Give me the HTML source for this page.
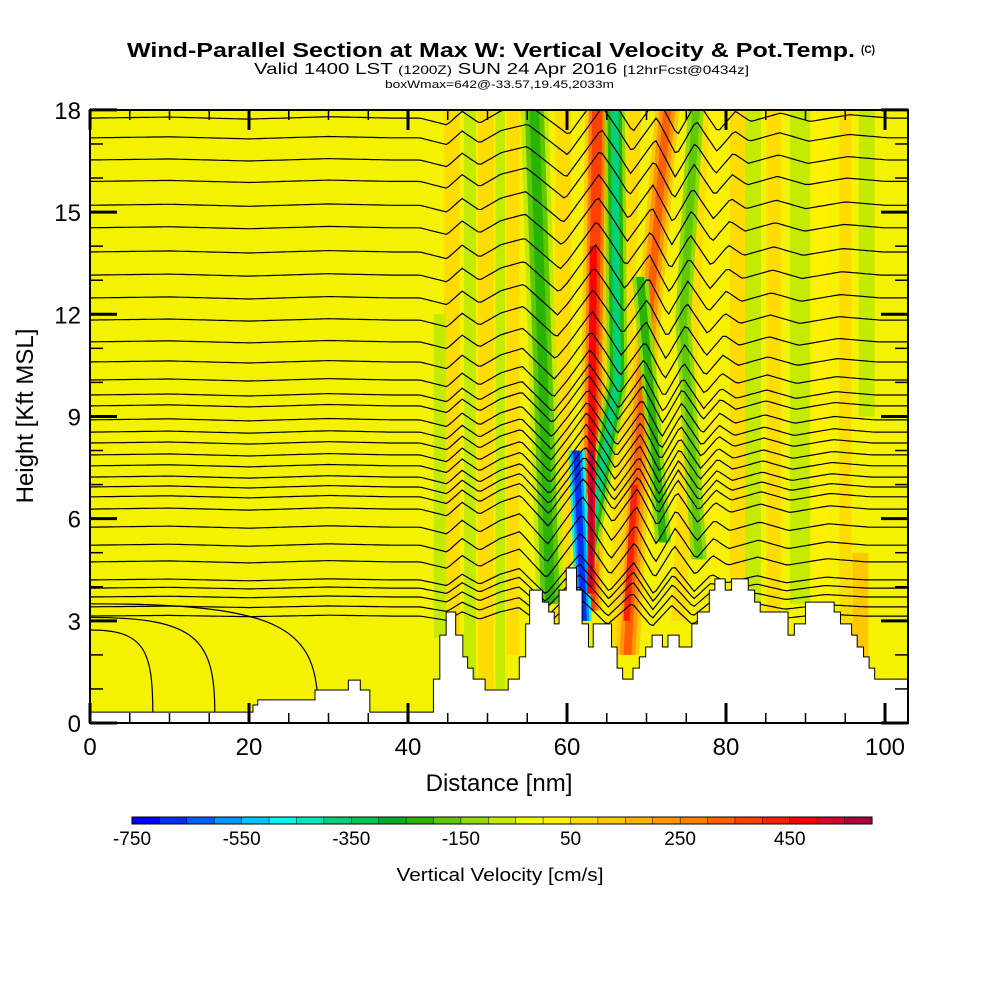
<!DOCTYPE html>
<html><head><meta charset="utf-8"><style>
html,body{margin:0;padding:0;background:#fff;}
svg{display:block;font-family:"Liberation Sans",sans-serif;}
</style></head><body>
<svg id="chart" width="1000" height="1000" viewBox="0 0 1000 1000" xmlns="http://www.w3.org/2000/svg">
<defs><clipPath id="plotclip"><rect x="90" y="110" width="818" height="613"/></clipPath></defs>
<g>
<text x="127" y="57" font-size="20" font-weight="bold" textLength="728" lengthAdjust="spacingAndGlyphs">Wind-Parallel Section at Max W: Vertical Velocity &amp; Pot.Temp.</text>
<text x="861" y="53" font-size="11" font-weight="bold" textLength="14" lengthAdjust="spacingAndGlyphs">(C)</text>
<text x="254" y="74" font-size="16" textLength="495" lengthAdjust="spacingAndGlyphs">Valid 1400 LST <tspan font-size="12">(1200Z)</tspan> SUN 24 Apr 2016 <tspan font-size="12">[12hrFcst@0434z]</tspan></text>
<text x="385" y="88" font-size="11" textLength="229" lengthAdjust="spacingAndGlyphs">boxWmax=642@-33.57,19.45,2033m</text>
</g>
<g id="plot" clip-path="url(#plotclip)">
<rect x="90" y="110" width="818" height="613" fill="#f4f200"/>
<g id="stripes"></g>
<g id="contours"></g>
<g id="terrain"></g>
</g>
<rect x="90" y="110" width="818" height="613" fill="none" stroke="#000" stroke-width="2"/>
<g id="ticks"></g>
<g id="labels" font-size="24"></g>
<text x="499" y="791" font-size="24" text-anchor="middle">Distance [nm]</text>
<text transform="translate(33,416) rotate(-90)" font-size="24" text-anchor="middle">Height [Kft MSL]</text>
<g id="colorbar"></g>
<text x="500" y="881" font-size="18" text-anchor="middle" textLength="207" lengthAdjust="spacingAndGlyphs">Vertical Velocity [cm/s]</text>
</svg>
<script>
// ---- data ----
const binColors = ['#0000ff','#0030ff','#0060ff','#0098ff','#00c8ff','#00f8f0','#00e8b8','#00d27a','#00c850','#00b020','#28b400','#60c800','#90dc00','#c4ea00','#eef800','#fff000','#ffdc00','#ffc800','#ffb000','#ff9800','#ff8000','#ff6000','#ff4000','#ff2000','#ff0000','#d80030','#b00040'];
const cbarLabels = [-750,-550,-350,-150,50,250,450];
const xTicks = [0,20,40,60,80,100];
const yTicks = [0,3,6,9,12,15,18];
// terrain steps: start distance (nm), height (kft)
const terrNm  = [0,20.5,21.1,28.3,32.5,34.0,35.2,43.2,44.0,44.8,46.0,46.9,47.5,48.2,49.7,52.6,54.0,54.8,55.3,56.9,57.7,58.4,59.0,59.9,61.2,61.9,62.7,63.3,65.6,66.3,67.0,68.3,69.1,69.9,70.7,72.0,72.7,74.1,75.7,76.4,77.9,78.6,79.9,80.7,82.8,83.6,84.3,87.8,88.6,90.0,93.6,94.4,95.8,96.5,97.3,98.0,98.7];
const terrKft = [0.32,0.53,0.68,0.97,1.26,0.97,0.32,1.29,2.58,3.26,2.58,1.94,1.61,1.29,0.97,1.29,1.94,2.91,3.90,3.55,3.26,2.91,3.90,4.55,3.90,2.91,2.23,2.91,2.23,1.61,1.29,1.61,1.94,2.23,2.58,2.23,2.58,2.23,2.91,3.26,3.90,4.23,3.90,4.23,3.90,3.55,3.26,2.58,2.91,3.55,3.26,2.91,2.58,2.23,1.94,1.61,1.29];
// velocity stripes (drawn in order)
const stripeX0 = [45.5,49.8,53.2,66.0,74.0,78.5,81.5,86.0,92.0,95.0, 47.8,51.6,59.5,83.4,89.3,97.7,96.9,44.0, 57.9,57.9,57.9, 62.9,62.9,62.9, 61.5,61.5,61.5,66.3,66.3,66.3, 62.1,62.1,62.1, 63.0,63.0, 67.6,67.6,67.6,69.3,69.3,69.3,67.5, 72.1,72.1, 76.6,76.6,74.6,74.6];
const stripeY0 = [1.0,1.0,2.0,2.0,3.0,4.0,4.0,3.0,3.5,2.0, 0.5,1.0,3.0,3.5,3.5,9.0,1.3,2.5, 3.5,3.5,3.5, 3.3,3.3,3.3, 3.5,3.5,3.5,10,10,10, 3.0,3.0,3.0, 3.8,4.0, 2.0,2.0,2.0,9.2,9.2,9.2,3.0, 5.3,5.3, 4.8,4.8,11.8,11.8];
const stripeX1 = [45.5,49.8,53.2,68.5,77.0,78.5,81.5,86.0,92.0,95.0, 47.8,51.6,59.5,83.4,89.3,97.7,96.9,44.0, 55.9,55.9,55.9, 63.8,63.8,63.8, 66.3,66.3,66.3,66.0,66.0,66.0, 61.2,61.2,61.2, 63.3,63.1, 69.3,69.3,69.3,72.6,72.6,72.6,68.5, 69.2,69.2, 74.6,74.6,76.2,76.2];
const stripeY1 = [18,18,18,18,18,18,18,18,18,18, 18,18,18,18,18,18,5.0,12, 18,18,18, 18,18,18, 10,10,10,18,18,18, 8.0,8.0,8.0, 14,8, 9.2,9.2,9.2,18,18,18,7.0, 13.1,13.1, 11.8,11.8,18,18];
const stripeW  = [2.0,2.0,1.6,1.8,1.8,1.5,2.0,1.8,2.2,1.5, 1.5,1.2,2.0,2.0,2.5,2.0,2.0,1.5, 3.5,2.4,1.2, 3.0,2.1,1.3, 2.6,1.8,1.0,2.6,1.8,1.0, 2.0,1.4,0.8, 0.9,0.4, 3.0,2.0,1.0,3.0,2.0,1.0,0.8, 2.0,1.0, 2.0,1.0,2.0,1.0];
const stripeC  = [16,16,16,16,16,15,16,16,15,16, 13,13,16,13,13,13,17,13, 13,11,10, 17,20,22, 12,10,7,12,10,7, 5,3,1, 24,26, 17,19,21,17,19,21,23, 12,10, 12,11,12,11];
// theta contours: base heights (kft) at left edge
const contourBase = [17.76,17.18,16.53,15.9,15.2,14.54,13.83,13.15,12.48,11.83,11.19,10.6,10.07,9.63,9.31,8.9,8.54,8.22,7.87,7.55,7.22,6.93,6.64,6.28,5.75,5.22,4.73,4.2,3.96,3.7,3.41,3.14];
// shared perturbation profile
const pertNm  = [0,10,20,30,38,41.5,44.9,46.8,49,51.6,54.1,57.6,62,63.8,65.7,68.8,71.3,73.8,76.4,78.6,80.5,84.3,88,93,98,103];
const pertKft = [0,0.03,-0.03,0.04,0,0,-0.2,0.2,-0.15,0.2,0.4,-0.5,0.9,0.3,-0.4,0.6,-0.5,0.5,-0.4,0.2,-0.1,0.15,-0.1,0.1,0,0];
// low-level closed contours: reach (nm), top height (kft)
const arcReach = [7.9,15.7,28.7];
const arcTop   = [2.73,3.1,3.5];

// ---- axes ----
const X = nm => 90 + nm*7.95;
const Y = k => 723 - k*34.06;
const NS = 'http://www.w3.org/2000/svg';
function mk(tag, attrs, parent){const e=document.createElementNS(NS,tag);for(const k in attrs)e.setAttribute(k,attrs[k]);parent.appendChild(e);return e;}

const sg = document.getElementById('stripes');
for(let i=0;i<stripeX0.length;i++){
  const h=stripeW[i]/2;
  const pts=[[X(stripeX0[i]-h),Y(stripeY0[i])],[X(stripeX0[i]+h),Y(stripeY0[i])],[X(stripeX1[i]+h),Y(stripeY1[i])],[X(stripeX1[i]-h),Y(stripeY1[i])]].map(p=>p.join(',')).join(' ');
  const p=mk('polygon',{points:pts,fill:binColors[stripeC[i]]},sg);
  
  
}
function pert(nm){
  if(nm<=pertNm[0])return pertKft[0];
  for(let i=1;i<pertNm.length;i++){if(nm<=pertNm[i]){const t=(nm-pertNm[i-1])/(pertNm[i]-pertNm[i-1]);return pertKft[i-1]+t*(pertKft[i]-pertKft[i-1]);}}
  return 0;
}
const cg = document.getElementById('contours');
contourBase.forEach(b=>{
  const amp = b>5?1:Math.max(0.3,b/5);
  const shift = (b-6)*0.22;
  let d='';
  for(let nm=0;nm<=103.2;nm+=0.4){
    const w = Math.min(1, Math.max(0, (nm-52)/8));
    const k = b + amp*pert(nm - shift*w);
    d += (d?'L':'M')+X(nm).toFixed(1)+','+Y(k).toFixed(1);
  }
  const p=mk('path',{d:d,fill:'none',stroke:'#000','stroke-width':1.2},cg);
  
  
});
arcReach.forEach((r,i)=>{
  const t=arcTop[i];
  const d=`M${X(0)},${Y(t)} C${X(r*0.85)},${Y(t)} ${X(r)},${Y(t*0.8)} ${X(r)},${Y(0.3)}`;
  const p=mk('path',{d:d,fill:'none',stroke:'#000','stroke-width':1.2},cg);
  
  
});
let td=`M${X(0)},724 `;
for(let i=0;i<terrNm.length;i++){
  const x0=X(terrNm[i]); const x1=i+1<terrNm.length?X(terrNm[i+1]):910;
  td+=`L${x0},${Y(terrKft[i])} L${x1},${Y(terrKft[i])} `;
}
td+='L910,724 Z';
const tp=mk('path',{d:td,fill:'#fff',stroke:'#000','stroke-width':1},document.getElementById('terrain'));


const tg=document.getElementById('ticks');
for(let k=0;k<=18;k++){
  const L=k%3===0?27:13; const y=Y(k);
  const a=mk('line',{x1:90,y1:y,x2:90+L,y2:y,stroke:'#000','stroke-width':k%3===0?3:1.5},tg);
  
  
  const b=mk('line',{x1:908-L,y1:y,x2:908,y2:y,stroke:'#000','stroke-width':k%3===0?3:1.5},tg);
  
  
}
for(let nm=0;nm<=100;nm+=5){
  const L=nm%20===0?20:10; const x=X(nm);
  const a=mk('line',{x1:x,y1:723,x2:x,y2:723-L,stroke:'#000','stroke-width':nm%20===0?3:1.5},tg);
  
  
  const b=mk('line',{x1:x,y1:110,x2:x,y2:110+L,stroke:'#000','stroke-width':nm%20===0?3:1.5},tg);
  
  
}
const lg=document.getElementById('labels');
yTicks.forEach(v=>{
  const t=mk('text',{x:81,y:Y(v)+9,'text-anchor':'end'},lg); t.textContent=v;
  
  
});
xTicks.forEach(v=>{
  const t=mk('text',{x:X(v),y:755,'text-anchor':'middle'},lg); t.textContent=v;
  
  
});
const cb=document.getElementById('colorbar');
const cw=740/binColors.length;
binColors.forEach((c,i)=>{
  const r=mk('rect',{x:132+i*cw,y:817,width:cw+0.3,height:7,fill:c,stroke:'#000','stroke-width':0.5},cb);
  
  
});
const fr=mk('rect',{x:132,y:817,width:740,height:7,fill:'none',stroke:'#000','stroke-width':1},cb);


cbarLabels.forEach(v=>{
  const t=mk('text',{x:132+(v+750)/50*cw,y:845,'font-size':19,'text-anchor':'middle'},cb); t.textContent=v;
  
  
});
</script>
</body></html>
